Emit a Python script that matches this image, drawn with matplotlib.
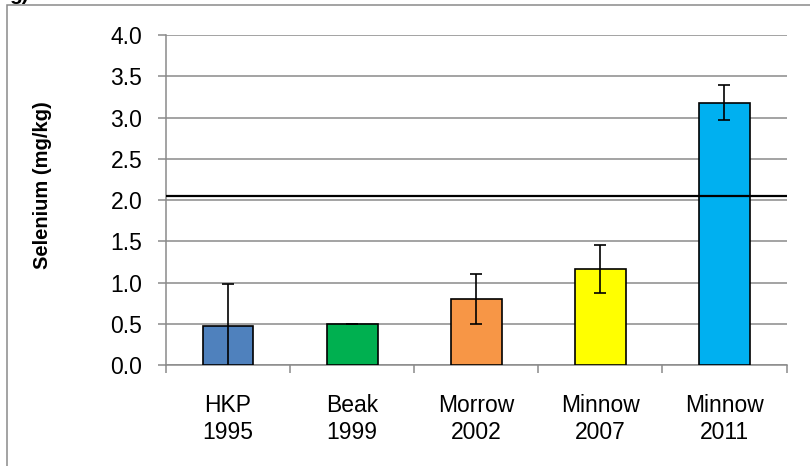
import matplotlib
matplotlib.use("Agg")
import matplotlib.pyplot as plt
from matplotlib.patches import Rectangle
import numpy as np

plt.rcParams["font.family"] = ["Liberation Sans", "DejaVu Sans"]

# Selenium in fish tissue by survey (mean +/- error)
surveys = ["HKP\n1995", "Beak\n1999", "Morrow\n2002", "Minnow\n2007", "Minnow\n2011"]
selenium = [0.48, 0.50, 0.80, 1.17, 3.18]
selenium_err = [0.50, 0.0, 0.30, 0.29, 0.21]
guideline = 2.05
yticks = [0.0, 0.5, 1.0, 1.5, 2.0, 2.5, 3.0, 3.5, 4.0]

bar_colors = ["#4F81BD", "#00B050", "#F79646", "#FFFF00", "#00B0F0"]
grid_gray = "#8A8A8A"

W, H = 810, 466
fig = plt.figure(figsize=(W / 100, H / 100), dpi=100)
ax = fig.add_axes([166 / W, 1 - 365.3 / H, (786.5 - 166) / W, (365.3 - 35) / H])

x = np.arange(len(surveys))
ax.bar(x, selenium, width=0.41, color=bar_colors, edgecolor="black", linewidth=1.2, zorder=3)
ax.errorbar(x, selenium, yerr=selenium_err, fmt="none", ecolor="black",
            elinewidth=1.2, capsize=4, capthick=1.2, zorder=4)
ax.axhline(guideline, color="black", linewidth=1.6, zorder=5)

ax.set_xlim(-0.5, len(surveys) - 0.5)
ax.set_ylim(0, 4.0)
ax.set_yticks(yticks)
ax.set_yticklabels([f"{v:.1f}" for v in yticks])
ax.yaxis.grid(True, color=grid_gray, linewidth=1.1, zorder=0)

ax.set_xticks(x)
ax.set_xticklabels(surveys)
ax.set_xticks(np.arange(len(surveys) + 1) - 0.5, minor=True)
ax.tick_params(axis="x", which="major", length=0, pad=21, labelsize=16.5)
ax.tick_params(axis="x", which="minor", length=6, width=1.1, color=grid_gray, direction="out")
ax.tick_params(axis="y", length=6, width=1.1, color=grid_gray, direction="out",
               pad=11, labelsize=16.5)

for side in ("top", "right"):
    ax.spines[side].set_visible(False)
for side in ("left", "bottom"):
    ax.spines[side].set_color(grid_gray)
    ax.spines[side].set_linewidth(1.1)

fig.text(43 / W, 1 - 185 / H, "Selenium (mg/kg)", rotation=90, ha="center", va="center",
         fontsize=14.5, fontweight="bold")

# panel frame and label, running off the page edges
fig.patches.append(Rectangle((6.5 / W, -0.1), 1.2, 1.1 - 5.5 / H, transform=fig.transFigure,
                             fill=False, edgecolor=grid_gray, linewidth=1.1))
fig.text(9 / W, 1.0, "g)", ha="left", va="baseline", fontsize=15, fontweight="bold")

fig.savefig("out.png", dpi=100)
